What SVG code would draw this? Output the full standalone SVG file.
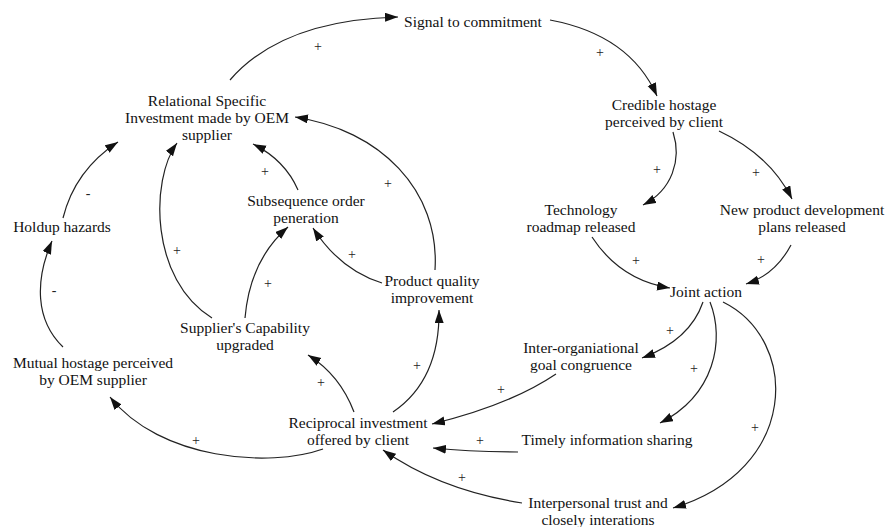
<svg xmlns="http://www.w3.org/2000/svg" width="888" height="527" viewBox="0 0 888 527">
<defs>
<marker id="ah" markerUnits="userSpaceOnUse" markerWidth="14" markerHeight="10" refX="13" refY="4.5" orient="auto">
<path d="M0,0 L13,4.5 L0,9 z" fill="#111"/>
</marker>
<style>
.n text{font-size:15.5px;fill:#111;text-anchor:middle}
.c path{fill:none;stroke:#222;stroke-width:1.2;marker-end:url(#ah)}
.s text{font-size:14px;fill:#222;text-anchor:middle}
</style>
</defs>
<rect width="888" height="527" fill="#fff"/>
<g font-family="'Liberation Serif', 'Times New Roman', serif">
<g class="c">
<path d="M230,80 Q282,20 398,17"/>
<path d="M550,20 Q630,35 657,96"/>
<path d="M673,132 C682,160 672,190 643,205"/>
<path d="M719,131 Q770,155 792,199"/>
<path d="M592,237 Q620,280 670,288"/>
<path d="M791,245 Q775,275 746,284"/>
<path d="M703,302 Q690,340 642,358"/>
<path d="M710,302 C725,340 715,395 660,423"/>
<path d="M723,302 C800,340 800,470 673,508"/>
<path d="M556,374 Q510,405 432,424"/>
<path d="M518,452 Q470,452 433,448"/>
<path d="M522,503 Q440,490 383,450"/>
<path d="M323,449 C270,468 160,460 110,397"/>
<path d="M354,412 Q340,375 308,355"/>
<path d="M393,412 Q440,380 439,310"/>
<path d="M63,347 C35,320 35,280 52,241"/>
<path d="M63,218 Q75,170 118,142"/>
<path d="M212,318 C150,280 150,180 177,143"/>
<path d="M245,318 Q250,260 288,227"/>
<path d="M382,283 Q340,270 313,228"/>
<path d="M298,190 Q285,160 253,144"/>
<path d="M435,270 C440,190 380,130 295,117"/>
</g>
<g class="s">
<text x="318" y="51">+</text>
<text x="600" y="57">+</text>
<text x="657" y="174">+</text>
<text x="756" y="177">+</text>
<text x="636" y="265">+</text>
<text x="761" y="264">+</text>
<text x="670" y="335">+</text>
<text x="694" y="373">+</text>
<text x="755" y="432">+</text>
<text x="501" y="394">+</text>
<text x="480" y="445">+</text>
<text x="462" y="482">+</text>
<text x="196" y="445">+</text>
<text x="321" y="387">+</text>
<text x="417" y="370">+</text>
<text x="54" y="295">-</text>
<text x="88" y="198">-</text>
<text x="177" y="255">+</text>
<text x="268" y="288">+</text>
<text x="352" y="259">+</text>
<text x="265" y="176">+</text>
<text x="388" y="188">+</text>
</g>
<g class="n" id="signal"><text x="473" y="27">Signal to commitment</text></g>
<g class="n" id="relational"><text x="207" y="106">Relational Specific</text><text x="207" y="123">Investment made by OEM</text><text x="207" y="140">supplier</text></g>
<g class="n" id="holdup"><text x="62" y="232">Holdup hazards</text></g>
<g class="n" id="subsequence"><text x="306" y="206">Subsequence order</text><text x="306" y="223">peneration</text></g>
<g class="n" id="quality"><text x="432" y="286">Product quality</text><text x="432" y="303">improvement</text></g>
<g class="n" id="capability"><text x="245" y="333">Supplier's Capability</text><text x="245" y="350">upgraded</text></g>
<g class="n" id="mutual"><text x="93" y="368">Mutual hostage perceived</text><text x="93" y="385">by OEM supplier</text></g>
<g class="n" id="reciprocal"><text x="358" y="428">Reciprocal investment</text><text x="358" y="445">offered by client</text></g>
<g class="n" id="credible"><text x="664" y="110">Credible hostage</text><text x="664" y="127">perceived by client</text></g>
<g class="n" id="technology"><text x="581" y="215">Technology</text><text x="581" y="232">roadmap released</text></g>
<g class="n" id="newproduct"><text x="802" y="215">New product development</text><text x="802" y="232">plans released</text></g>
<g class="n" id="joint"><text x="706" y="297">Joint action</text></g>
<g class="n" id="goal"><text x="581" y="353">Inter-organiational</text><text x="581" y="370">goal congruence</text></g>
<g class="n" id="timely"><text x="607" y="445">Timely information sharing</text></g>
<g class="n" id="trust"><text x="598" y="508">Interpersonal trust and</text><text x="598" y="525">closely interations</text></g>
</g>
</svg>
